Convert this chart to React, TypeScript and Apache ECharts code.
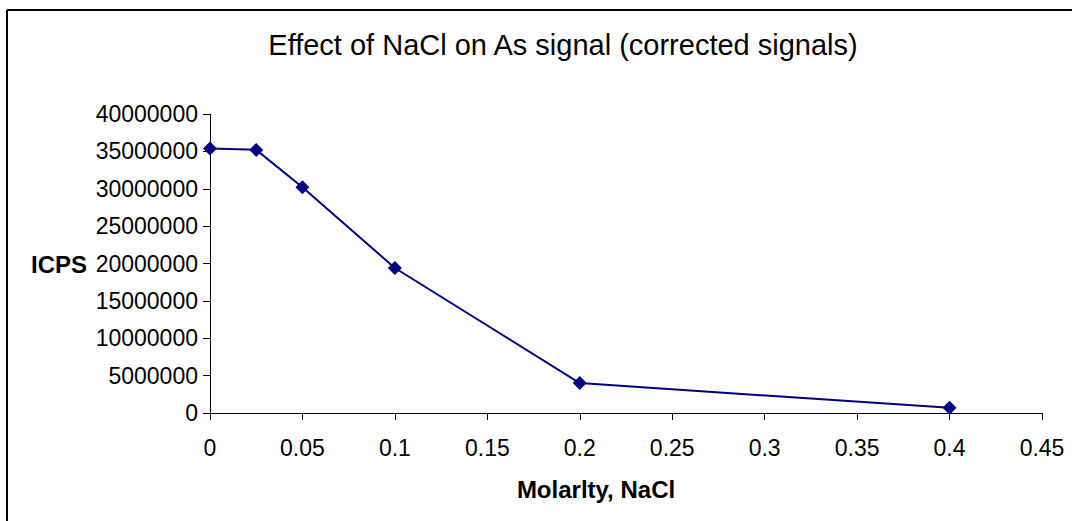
import React, { useEffect, useRef } from "react";
import * as echarts from "echarts";

const title = "Effect of NaCl on As signal (corrected signals)";
const xAxisName = "Molarlty, NaCl";
const yAxisName = "ICPS";
const molarity = [0, 0.025, 0.05, 0.1, 0.2, 0.4];
const icps = [35400000, 35200000, 30200000, 19400000, 4000000, 700000];

const FONT = "Arial, 'Liberation Sans', sans-serif";

export default function App() {
  const ref = useRef<HTMLDivElement>(null);
  useEffect(() => {
    if (!ref.current) return;
    const chart = echarts.init(ref.current, undefined, { renderer: "svg" });
    chart.setOption({
      animation: false,
      backgroundColor: "#ffffff",
      grid: { left: 210, right: 30, top: 114, bottom: 108, containLabel: false },
      xAxis: {
        type: "value",
        min: 0,
        max: 0.45,
        interval: 0.05,
        splitLine: { show: false },
        axisLine: { show: true, onZero: false, lineStyle: { color: "#000", width: 1 } },
        axisTick: { show: true, inside: false, length: 7, lineStyle: { color: "#000" } },
        axisLabel: {
          color: "#000",
          fontFamily: FONT,
          fontSize: 23,
          margin: 23,
          formatter: (v: number) => String(parseFloat(v.toFixed(2))),
        },
      },
      yAxis: {
        type: "value",
        min: 0,
        max: 40000000,
        interval: 5000000,
        splitLine: { show: false },
        axisLine: { show: true, lineStyle: { color: "#000", width: 1 } },
        axisTick: { show: true, inside: false, length: 7, lineStyle: { color: "#000" } },
        axisLabel: {
          color: "#000",
          fontFamily: FONT,
          fontSize: 23,
          margin: 12,
          formatter: (v: number) => String(v),
        },
      },
      series: [
        {
          type: "line",
          data: molarity.map((m, i) => [m, icps[i]]),
          symbol: "diamond",
          symbolSize: 14,
          lineStyle: { color: "#000080", width: 2 },
          itemStyle: { color: "#000080" },
        },
      ],
      graphic: [
        { type: "line", shape: { x1: 7, y1: 10, x2: 1072, y2: 10 }, style: { stroke: "#000", lineWidth: 2 } },
        { type: "line", shape: { x1: 7, y1: 10, x2: 7, y2: 521 }, style: { stroke: "#000", lineWidth: 2 } },
        {
          type: "text",
          x: 563,
          y: 45,
          style: { text: title, fontFamily: FONT, fontSize: 29, fill: "#000", textAlign: "center", textVerticalAlign: "middle" },
        },
        {
          type: "text",
          x: 596,
          y: 489,
          style: { text: xAxisName, fontFamily: FONT, fontSize: 24, fontWeight: "bold", fill: "#000", textAlign: "center", textVerticalAlign: "middle" },
        },
        {
          type: "text",
          x: 59,
          y: 264,
          style: { text: yAxisName, fontFamily: FONT, fontSize: 24, fontWeight: "bold", fill: "#000", textAlign: "center", textVerticalAlign: "middle" },
        },
      ],
    });
    return () => chart.dispose();
  }, []);
  return <div ref={ref} style={{ position: "fixed", left: 0, top: 0, width: 1072, height: 521 }} />;
}
